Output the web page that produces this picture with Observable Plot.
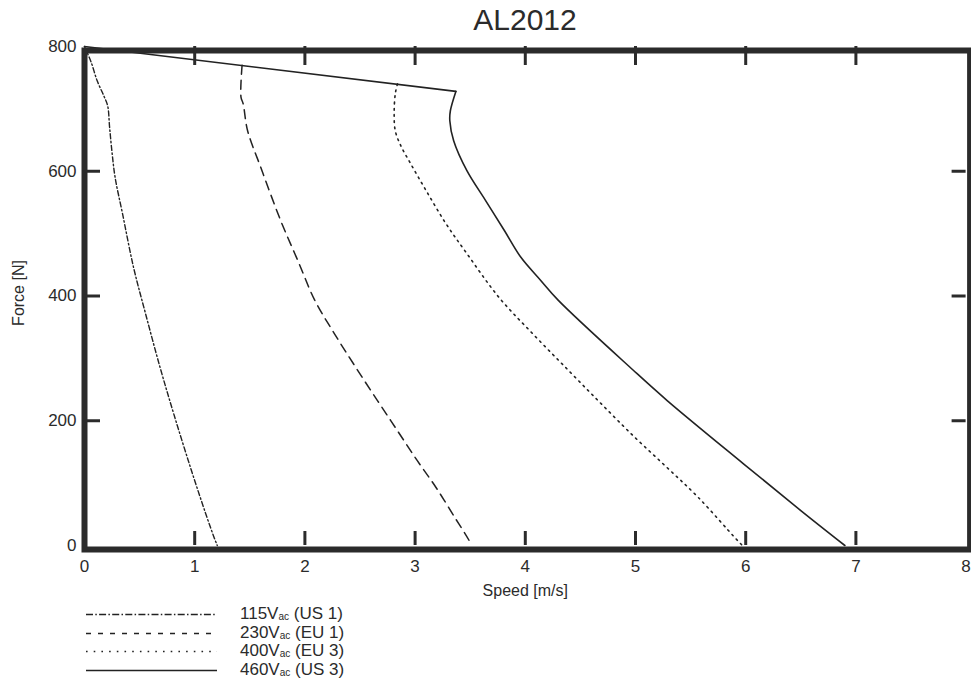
<!DOCTYPE html>
<html>
<head>
<meta charset="utf-8">
<script src="https://cdn.jsdelivr.net/npm/d3@7"></script>
<script src="https://cdn.jsdelivr.net/npm/@observablehq/plot@0.6"></script>
<style>
  body { margin: 0; background: #fff; font-family: "Liberation Sans", Arial, Helvetica, sans-serif; color: #2b2b2b; }
  #title { height: 40px; line-height: 40px; margin-left: 84px; width: 882px; text-align: center; font-size: 30px; }
  #chart { height: 560px; }
  #legend { position: absolute; left: 0; top: 605px; font-size: 17px; }
  .row { position: relative; height: 18.5px; line-height: 18.5px; }
  .row svg { position: absolute; left: 0; top: 0; }
  .row span { position: absolute; left: 240px; top: 0; white-space: nowrap; }
  .row sub { font-size: 10px; vertical-align: -1px; }
</style>
</head>
<body>
<div id="title">AL2012</div>
<div id="chart"></div>
<div id="legend"></div>
<script>
// ---- data ----
const seriesNames = ["115V", "230V", "400V", "460V"];
const seriesRegions = ["(US 1)", "(EU 1)", "(EU 3)", "(US 3)"];

const speed115 = [0, 0.06, 0.115, 0.175, 0.21, 0.228, 0.25, 0.278, 0.345, 0.445, 0.555, 0.685, 0.81, 0.96, 1.10, 1.18, 1.205];
const force115 = [800, 775, 745, 721, 705, 670, 630, 590, 532, 446, 371, 286, 211, 126, 51, 11, 0];

const speed230 = [1.43, 1.42, 1.44, 1.48, 1.60, 1.78, 1.94, 2.09, 2.27, 2.46, 2.66, 2.84, 3.02, 3.19, 3.36, 3.49, 3.51];
const force230 = [770, 719, 708, 665, 606, 521, 455, 393, 339, 286, 232, 184, 136, 93, 45, 8, 0];

const speed400 = [2.84, 2.82, 2.81, 2.82, 2.87, 2.96, 3.10, 3.28, 3.47, 3.76, 4.07, 4.39, 4.69, 4.99, 5.28, 5.57, 5.91, 5.97];
const force400 = [740, 724, 692, 665, 641, 612, 569, 516, 468, 398, 339, 281, 227, 174, 126, 77, 11, 0];

const speed460 = [0, 3.37, 3.32, 3.315, 3.35, 3.47, 3.64, 3.81, 3.96, 4.14, 4.30, 4.98, 5.29, 5.98, 6.50, 6.90];
const force460 = [800, 728, 697, 681, 649, 601, 553, 505, 462, 425, 393, 281, 232, 131, 56, 0];

const xTicks = [0, 1, 2, 3, 4, 5, 6, 7, 8];
const yTicks = [0, 200, 400, 600, 800];

// ---- build tables ----
const toRows = (xs, ys) => xs.map((v, i) => ({speed: v, force: ys[i]}));
const rows115 = toRows(speed115, force115);
const rows230 = toRows(speed230, force230);
const rows400 = toRows(speed400, force400);
const rows460 = toRows(speed460, force460);

const ink = "#2b2b2b";
const lineInk = "#222";
const innerX = xTicks.slice(1, -1);
const innerY = yTicks.slice(1, -1);

const W = 971, H = 560, ML = 84, MR = 5.4, MT = 6, MB = 55;
const frameW = W - ML - MR, frameH = H - MT - MB;

const chart = Plot.plot({
  width: W,
  height: H,
  marginLeft: ML,
  marginRight: MR,
  marginTop: MT,
  marginBottom: MB,
  x: {domain: [0, 8], axis: null},
  y: {domain: [0, 800], axis: null},
  style: {fontFamily: '"Liberation Sans", Arial, Helvetica, sans-serif', color: ink, background: "#fff", overflow: "visible"},
  marks: [
    Plot.line(rows115, {x: "speed", y: "force", stroke: lineInk, strokeWidth: 1.4, strokeDasharray: "5,2.5,1.5,2.5", curve: "catmull-rom"}),
    Plot.line(rows230, {x: "speed", y: "force", stroke: lineInk, strokeWidth: 1.5, strokeDasharray: "9,6", curve: "catmull-rom"}),
    Plot.line(rows400, {x: "speed", y: "force", stroke: lineInk, strokeWidth: 1.6, strokeDasharray: "1.6,4.6", curve: "catmull-rom"}),
    Plot.line(rows460.slice(0, 2), {x: "speed", y: "force", stroke: lineInk, strokeWidth: 1.6}),
    Plot.line(rows460.slice(1), {x: "speed", y: "force", stroke: lineInk, strokeWidth: 1.6, curve: "catmull-rom"}),
    Plot.frame({stroke: ink, strokeWidth: 6, insetTop: 4, insetBottom: -4, insetRight: -4}),
    // inward tick marks (lengths set by pixel insets)
    Plot.tickX(innerX, {x: d => d, stroke: ink, strokeWidth: 3, insetTop: frameH - 14}),
    Plot.tickX(innerX, {x: d => d, stroke: ink, strokeWidth: 3, insetBottom: frameH - 19}),
    Plot.tickY(innerY, {y: d => d, stroke: ink, strokeWidth: 3, insetRight: frameW - 16}),
    Plot.tickY(innerY, {y: d => d, stroke: ink, strokeWidth: 3, insetLeft: frameW - 14}),
    // tick labels
    Plot.axisX(xTicks, {anchor: "bottom", tickSize: 0, tickPadding: 14, fontSize: 17, label: null, fill: ink}),
    Plot.axisY(yTicks, {anchor: "left", tickSize: 0, tickPadding: 8, fontSize: 17, label: null, fill: ink}),
    // axis titles
    Plot.text(["Speed [m/s]"], {frameAnchor: "bottom", dy: 45, lineAnchor: "middle", textAnchor: "middle", fontSize: 16, fill: ink}),
    Plot.text(["Force [N]"], {frameAnchor: "left", rotate: -90, dx: -66, dy: -3, lineAnchor: "middle", textAnchor: "middle", fontSize: 16, fill: ink})
  ]
});
document.getElementById("chart").appendChild(chart);

// ---- legend ----
const legendStyles = [
  {dash: "7,2.3,1.5,2.3", width: 1.4},
  {dash: "5,7", width: 1.5},
  {dash: "1.6,6.1", width: 1.6},
  {dash: null, width: 1.6}
];
const legend = d3.select("#legend");
seriesNames.forEach((name, i) => {
  const row = legend.append("div").attr("class", "row");
  const svg = row.append("svg").attr("width", 220).attr("height", 18.5);
  const ln = svg.append("line")
    .attr("x1", 86).attr("x2", 217).attr("y1", 9.5).attr("y2", 9.5)
    .attr("stroke", lineInk).attr("stroke-width", legendStyles[i].width);
  if (legendStyles[i].dash) ln.attr("stroke-dasharray", legendStyles[i].dash);
  const span = row.append("span");
  span.append("tspan").text(name);
  span.append("sub").text("ac");
  span.append("tspan").text(" " + seriesRegions[i]);
});
</script>
</body>
</html>
